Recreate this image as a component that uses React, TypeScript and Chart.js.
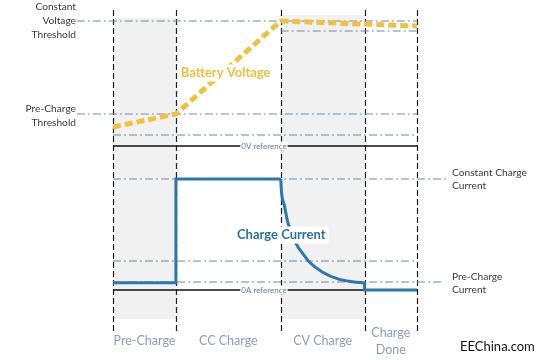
import React, { useEffect, useRef } from 'react';
import { Chart, registerables } from 'chart.js';

Chart.register(...registerables);

// ---------------- data ----------------
const phaseLabels = [['Pre-Charge'], ['CC Charge'], ['CV Charge'], ['Charge', 'Done']];
const phaseBoundaries = [0, 12, 32, 48, 58];
const phaseLabelTimes = [6, 22, 40, 53];
const shadedPhaseIndex = [0, 2];
const shadedTopVoltage = [102.4, 104.8];
const shadedBottomCurrent = -26.1;
const dividerTopVoltage = 108.8;
const dividerBottomCurrent = -37;

const batteryTime = [0, 12, 32, 58];
const batteryVoltage = [15.2, 25.6, 100, 96];

const preCcTime = [0, 12, 12, 32];
const preCcCurrent = [6.5, 6.5, 100, 100];
const cvTime = [32, 32.15, 32.7, 33.35, 34.9, 36.5, 37.5, 40, 42.9, 45.7, 48];
const cvCurrent = [100, 88, 76, 61, 42, 31, 25, 16, 10, 7.5, 6.5];
const doneTime = [48, 48, 58];
const doneCurrent = [6.5, 0, 0];

const voltageLineLevels = [100, 92, 25.6, 8.8];
const voltageLineFrom = [-6.9, 32, -6.9, 0];
const voltageLineTo = [58, 58, 58, 58];
const voltageReference = 0;
const currentLineLevels = [100, 26.1, 7.2];
const currentLineFrom = [0, 0, 0];
const currentLineTo = [63.5, 58, 62.8];
const currentReference = 0;
const referenceFrom = 0;
const referenceTo = 58;

const voltageTickValues = [100, 24];
const voltageTickLabels = [['Constant', 'Voltage', 'Threshold'], ['Pre-Charge', 'Threshold']];
const currentTickValues = [100, 6.2];
const currentTickLabels = [['Constant Charge', 'Current'], ['Pre-Charge', 'Current']];

// ---------------- styles ----------------
const FONT = 'Lato, "Open Sans", sans-serif';
const YELLOW = '#F1C13B';
const BLUE = '#2C77AC';
const GUIDE = '#6F88A6';

const annotations = [
  { text: 'Battery Voltage', t: 21.5, v: 58.4, axis: 'yV', color: '#EFBF3E', size: 13, weight: 'bold', bg: true },
  { text: 'Charge Current', t: 32.1, v: 49.5, axis: 'yI', color: '#2B70A7', size: 13, weight: 'bold', bg: true },
  { text: '0V reference', t: 28.8, v: 0, axis: 'yV', color: '#5A7EA3', size: 8, weight: 'normal', bg: true },
  { text: '0A reference', t: 28.8, v: 0, axis: 'yI', color: '#5A7EA3', size: 8, weight: 'normal', bg: true },
];

const pts = (xs: number[], ys: number[]) => xs.map((x, i) => ({ x, y: ys[i] }));

const overlayPlugin = {
  id: 'overlay',
  beforeDatasetsDraw(chart: any) {
    const { ctx } = chart;
    const x = chart.scales.x;
    const yV = chart.scales.yV;
    const yI = chart.scales.yI;
    ctx.save();
    ctx.fillStyle = '#F1F1F1';
    shadedPhaseIndex.forEach((p, i) => {
      const x0 = x.getPixelForValue(phaseBoundaries[p]);
      const x1 = x.getPixelForValue(phaseBoundaries[p + 1]);
      const y0 = yV.getPixelForValue(shadedTopVoltage[i]);
      const y1 = yI.getPixelForValue(shadedBottomCurrent);
      ctx.fillRect(x0, y0, x1 - x0, y1 - y0);
    });
    ctx.strokeStyle = '#1E1E1E';
    ctx.lineWidth = 1.2;
    ctx.setLineDash([6, 3]);
    phaseBoundaries.forEach((b) => {
      const px = Math.round(x.getPixelForValue(b)) + 0.5;
      ctx.beginPath();
      ctx.moveTo(px, yV.getPixelForValue(dividerTopVoltage));
      ctx.lineTo(px, yI.getPixelForValue(dividerBottomCurrent));
      ctx.stroke();
    });
    ctx.restore();
  },
  afterDatasetsDraw(chart: any) {
    const { ctx } = chart;
    const x = chart.scales.x;
    ctx.save();
    ctx.textAlign = 'center';
    ctx.textBaseline = 'middle';
    annotations.forEach((a) => {
      const px = x.getPixelForValue(a.t);
      const py = chart.scales[a.axis].getPixelForValue(a.v);
      ctx.font = `${a.weight} ${a.size}px ${FONT}`;
      const w = ctx.measureText(a.text).width;
      if (a.bg) {
        ctx.fillStyle = '#FFFFFF';
        const padX = a.size > 10 ? 3 : 1;
        const h = a.size > 10 ? a.size + 4 : a.size + 1;
        ctx.fillRect(px - w / 2 - padX, py - h / 2, w + padX * 2, h);
      }
      ctx.fillStyle = a.color;
      ctx.fillText(a.text, px, py);
    });
    ctx.restore();
  },
};

export default function App() {
  const canvasRef = useRef<HTMLCanvasElement | null>(null);

  useEffect(() => {
    if (!canvasRef.current) return;
    const guide = (lvl: number, from: number, to: number, axis: string) => ({
      data: pts([from, to], [lvl, lvl]),
      yAxisID: axis,
      borderColor: GUIDE,
      borderWidth: 1,
      borderDash: [8, 3, 2, 3],
      pointRadius: 0,
      clip: false as any,
      order: 5,
    });
    const reference = (lvl: number, axis: string) => ({
      data: pts([referenceFrom, referenceTo], [lvl, lvl]),
      yAxisID: axis,
      borderColor: '#111111',
      borderWidth: 1.3,
      pointRadius: 0,
      clip: false as any,
      order: 4,
    });
    const datasets: any[] = [
      {
        label: 'Battery Voltage',
        data: pts(batteryTime, batteryVoltage),
        yAxisID: 'yV',
        borderColor: YELLOW,
        borderWidth: 5,
        borderDash: [8, 4],
        pointRadius: 0,
        clip: false,
        order: 1,
      },
      {
        label: 'Charge Current (pre/CC)',
        data: pts(preCcTime, preCcCurrent),
        yAxisID: 'yI',
        borderColor: BLUE,
        borderWidth: 3,
        borderJoinStyle: 'miter',
        pointRadius: 0,
        order: 1,
      },
      {
        label: 'Charge Current (CV)',
        data: pts(cvTime, cvCurrent),
        yAxisID: 'yI',
        borderColor: BLUE,
        borderWidth: 3,
        cubicInterpolationMode: 'monotone',
        pointRadius: 0,
        order: 1,
      },
      {
        label: 'Charge Current (done)',
        data: pts(doneTime, doneCurrent),
        yAxisID: 'yI',
        borderColor: BLUE,
        borderWidth: 3,
        borderJoinStyle: 'miter',
        pointRadius: 0,
        order: 1,
      },
      ...voltageLineLevels.map((l, i) => guide(l, voltageLineFrom[i], voltageLineTo[i], 'yV')),
      ...currentLineLevels.map((l, i) => guide(l, currentLineFrom[i], currentLineTo[i], 'yI')),
      reference(voltageReference, 'yV'),
      reference(currentReference, 'yI'),
    ];

    const chart = new Chart(canvasRef.current, {
      type: 'line',
      data: { datasets },
      plugins: [overlayPlugin],
      options: {
        animation: false,
        responsive: false,
        maintainAspectRatio: false,
        events: [],
        layout: { padding: 0, autoPadding: false } as any,
        plugins: { legend: { display: false }, tooltip: { enabled: false } },
        scales: {
          x: {
            type: 'linear',
            position: 'bottom',
            min: phaseBoundaries[0],
            max: phaseBoundaries[phaseBoundaries.length - 1],
            grid: { display: false, drawTicks: false },
            border: { display: false },
            afterBuildTicks: (s: any) => {
              s.ticks = phaseLabelTimes.map((v) => ({ value: v }));
            },
            afterFit: (s: any) => {
              s.height = 41;
              s.paddingLeft = 0;
              s.paddingRight = 0;
            },
            ticks: {
              autoSkip: false,
              maxRotation: 0,
              minRotation: 0,
              crossAlign: 'center',
              padding: 13.5,
              color: '#8A9EB9',
              font: { family: FONT, size: 12.5, lineHeight: 1.36 },
              callback: (_v: any, i: number) => phaseLabels[i],
            },
          },
          yV: {
            type: 'linear',
            position: 'left',
            min: -138.4,
            max: 116.8,
            grid: { display: false, drawTicks: false },
            border: { display: false },
            afterBuildTicks: (s: any) => {
              s.ticks = voltageTickValues.map((v) => ({ value: v }));
            },
            afterFit: (s: any) => {
              s.width = 113;
              s.paddingTop = 0;
              s.paddingBottom = 0;
            },
            ticks: {
              autoSkip: false,
              padding: 37,
              color: '#3A3A3A',
              font: { family: FONT, size: 10.2, lineHeight: 1.37 },
              callback: (_v: any, i: number) => voltageTickLabels[i],
            },
          },
          yI: {
            type: 'linear',
            position: 'right',
            min: -26.13,
            max: 261.26,
            grid: { display: false, drawTicks: false },
            border: { display: false },
            afterBuildTicks: (s: any) => {
              s.ticks = currentTickValues.map((v) => ({ value: v }));
            },
            afterFit: (s: any) => {
              s.width = 121;
              s.paddingTop = 0;
              s.paddingBottom = 0;
            },
            ticks: {
              autoSkip: false,
              padding: 35,
              color: '#3A3A3A',
              font: { family: FONT, size: 10.2, lineHeight: 1.32 },
              callback: (_v: any, i: number) => currentTickLabels[i],
            },
          },
        },
      } as any,
    });
    return () => chart.destroy();
  }, []);

  return (
    <div style={{ position: 'absolute', left: 0, top: 0, width: 538, height: 360, background: '#FFFFFF' }}>
      <canvas ref={canvasRef} width={538} height={360} style={{ display: 'block' }} />
      <div
        style={{
          position: 'absolute',
          left: 460,
          top: 338,
          fontFamily: FONT,
          fontSize: 13,
          color: '#111111',
          lineHeight: '16px',
          whiteSpace: 'nowrap',
        }}
      >
        EEChina.com
      </div>
    </div>
  );
}
